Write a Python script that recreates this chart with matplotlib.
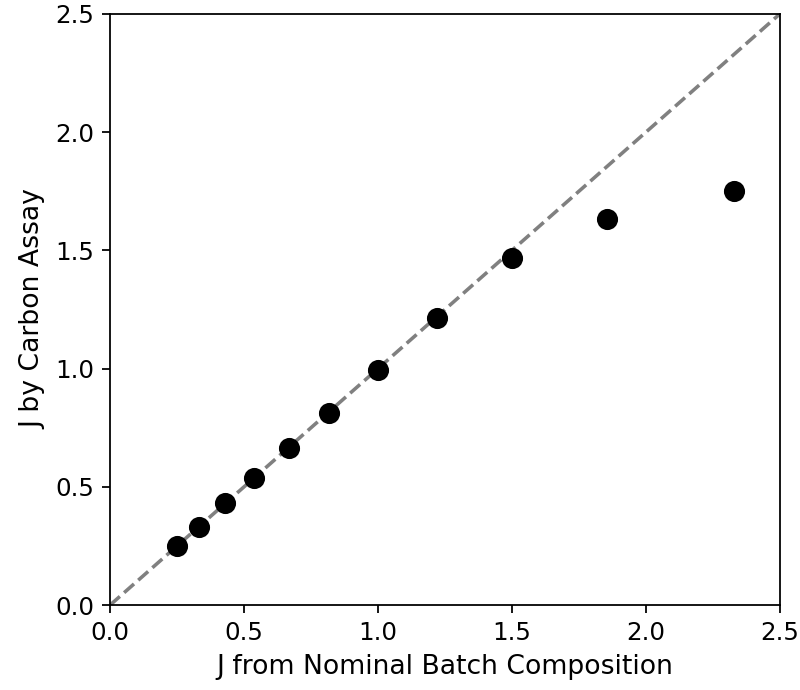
import matplotlib
matplotlib.use("Agg")
import matplotlib.pyplot as plt

# J values
j_nominal = [0.25, 0.333, 0.43, 0.537, 0.667, 0.817, 1.0, 1.22, 1.5, 1.855, 2.33]
j_carbon = [0.25, 0.33, 0.43, 0.537, 0.664, 0.812, 0.995, 1.214, 1.468, 1.633, 1.751]
axis_lim = [0.0, 2.5]

fig = plt.figure(figsize=(5, 4.3125), dpi=160)
ax = fig.add_axes([0.1375, 0.123, 0.8375, 0.857])

ax.plot(axis_lim, axis_lim, "--", color="gray", lw=1.6, zorder=1)
ax.plot(j_nominal, j_carbon, "o", color="black", markersize=8.5, zorder=2)

ax.set_xlim(axis_lim)
ax.set_ylim(axis_lim)
ax.set_xticks([0.0, 0.5, 1.0, 1.5, 2.0, 2.5])
ax.set_yticks([0.0, 0.5, 1.0, 1.5, 2.0, 2.5])
ax.tick_params(labelsize=11)
ax.set_xlabel("J from Nominal Batch Composition", fontsize=12)
ax.set_ylabel("J by Carbon Assay", fontsize=12)

fig.savefig("out.png", dpi=160)
